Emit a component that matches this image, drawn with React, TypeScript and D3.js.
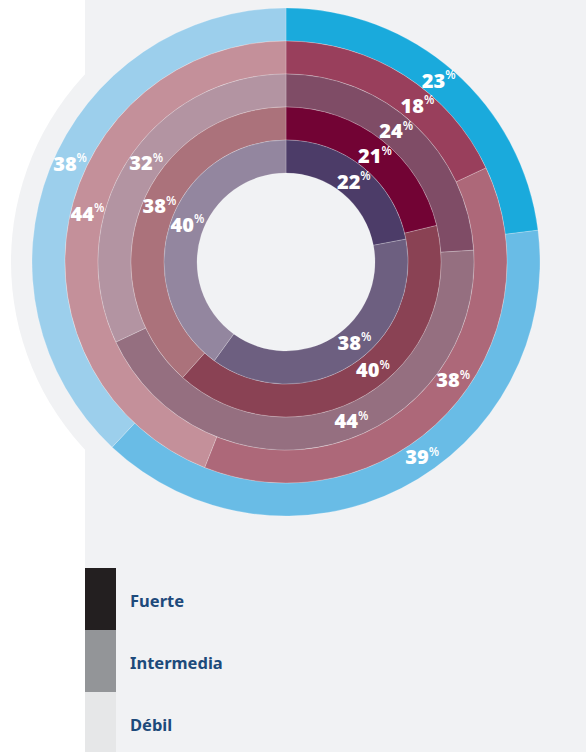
import React from "react";
import * as d3 from "d3";

// categories (clockwise from 12 o'clock)
const categories = ["Fuerte", "Intermedia", "Débil"];

// ring values, outer ring first
const ringBlue = [23, 39, 38];
const ringRose = [18, 38, 44];
const ringMauve = [24, 44, 32];
const ringWine = [21, 40, 38];
const ringPlum = [22, 38, 40];
const rings = [ringBlue, ringRose, ringMauve, ringWine, ringPlum];

// colours per ring, in category order
const ringColors = [
  ["#1aaadc", "#69bce6", "#9ccfec"],
  ["#993f5c", "#ad6879", "#c4909a"],
  ["#7f4c66", "#956f80", "#b394a2"],
  ["#720334", "#8a4254", "#ab727b"],
  ["#4c3c68", "#6d5f80", "#93869f"]
];

const legendColors = ["#231f20", "#939598", "#e6e7e8"];

const W = 586;
const H = 752;
const cx = 286;
const cy = 262;
const BG = "#f1f2f4";

export default function App() {
  // ring index -> outer radius
  const rOuter = d3.scaleLinear().domain([0, 1]).range([254, 221]);
  const ringW = rOuter(0) - rOuter(1);

  const pie = d3.pie<number>().sort(null).value(d => d);
  const arc = d3.arc<d3.PieArcDatum<number>>();

  const legend = d3.scaleBand<string>().domain(categories).range([568, 754]);

  const deg = Math.PI / 180;
  // where each category's label sits on its segment
  const labelAngle = (a: d3.PieArcDatum<number>, k: number) => {
    if (k === 0) return 40 * deg;
    const mid = (a.startAngle + a.endAngle) / 2;
    if (k === 1) return mid - 8 * deg;
    return mid + 3 * deg;
  };

  return (
    <svg
      width={W}
      height={H}
      style={{ position: "absolute", left: 0, top: 0, display: "block" }}
    >
      <rect x={0} y={0} width={W} height={H} fill="#ffffff" />
      <circle cx={cx} cy={cy} r={275} fill={BG} />
      <rect x={85} y={0} width={W - 85} height={H} fill={BG} />

      <g transform={`translate(${cx},${cy})`}>
        {rings.map((vals, i) => {
          const ro = rOuter(i);
          const ri = ro - ringW;
          const arcs = pie(vals);
          return (
            <g key={i}>
              {arcs.map((a, k) => (
                <path
                  key={k}
                  d={arc({ ...a, innerRadius: ri, outerRadius: ro } as any) || ""}
                  fill={ringColors[i][k]}
                  stroke="#ffffff"
                  strokeOpacity={0.35}
                  strokeWidth={0.6}
                />
              ))}
            </g>
          );
        })}
        {rings.map((vals, i) => {
          const rm = rOuter(i) - ringW / 2;
          return pie(vals).map((a, k) => {
            const ang = labelAngle(a, k);
            const x = Math.sin(ang) * rm;
            const y = -Math.cos(ang) * rm;
            return (
              <text
                key={`${i}-${k}`}
                x={x}
                y={y}
                textAnchor="middle"
                dominantBaseline="central"
                fill="#ffffff"
                fontFamily="'Open Sans', Inter, sans-serif"
                fontWeight={800}
                fontSize={20}
              >
                {a.data}
                <tspan fontSize={12} fontWeight={600} dy={-6}>
                  %
                </tspan>
              </text>
            );
          });
        })}
      </g>

      {categories.map((c, k) => (
        <g key={c}>
          <rect
            x={85}
            y={legend(c)}
            width={31}
            height={legend.bandwidth()}
            fill={legendColors[k]}
          />
          <text
            x={130}
            y={(legend(c) || 0) + legend.bandwidth() / 2 + 1}
            dominantBaseline="central"
            fill="#1d4a7b"
            fontFamily="'Noto Sans', sans-serif"
            fontWeight={700}
            fontSize={16.5}
          >
            {c}
          </text>
        </g>
      ))}
    </svg>
  );
}
